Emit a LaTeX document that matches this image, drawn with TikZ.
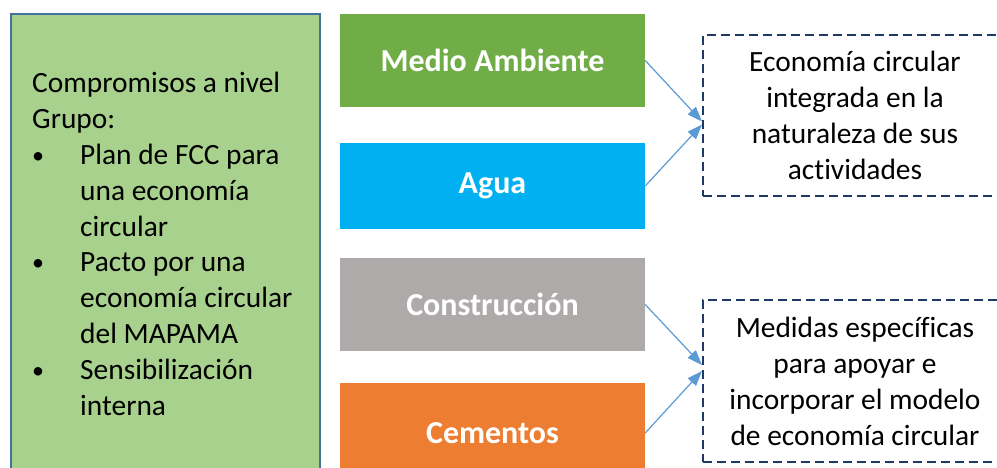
\documentclass[tikz,border=0pt]{standalone}
\usepackage{fontspec}
\setmainfont{Carlito}[Ligatures=NoCommon]
\usetikzlibrary{arrows.meta}

\definecolor{verdeclaro}{HTML}{A9D18E}
\definecolor{azulborde}{HTML}{41719C}
\definecolor{verdema}{HTML}{70AD47}
\definecolor{azulagua}{HTML}{00B0F0}
\definecolor{grisobra}{HTML}{AEAAAA}
\definecolor{naranja}{HTML}{ED7D31}
\definecolor{azuloscuro}{HTML}{203864}
\definecolor{azulflecha}{HTML}{5B9BD5}

\newcommand{\vineta}{\makebox[48pt][l]{\raisebox{1pt}{\fontsize{24}{24}\selectfont\textbullet}}}
\newcommand{\sangria}{\hspace*{48pt}}

\begin{document}
\begin{tikzpicture}[x=1pt,y=-1pt,
    sector/.style={minimum width=305pt,inner sep=0pt,text=white,
      font=\fontsize{32}{36}\selectfont\bfseries},
    meta/.style={draw=azuloscuro,line width=2pt,dash pattern=on 9pt off 5pt,
      minimum width=304pt,inner sep=0pt,align=center,
      font=\fontsize{29.4}{36}\selectfont},
    flecha/.style={draw=azulflecha,line width=1.2pt,
      -{Triangle[length=15pt,width=11pt]}}]
  \clip (0,0) rectangle (997,467);
  \fill[white] (0,0) rectangle (997,467);
  \draw[fill=verdeclaro,draw=azulborde,line width=2pt] (11,14) rectangle (320,490);
  \node[anchor=base west,align=left,inner sep=0pt,
    font=\fontsize{29.4}{35.8}\selectfont] (grupo) at (32,415)
    {Compromisos a nivel\\Grupo:\\
     \vineta Plan de FCC para\\\sangria una economía\\\sangria circular\\
     \vineta Pacto por una\\\sangria economía circular\\\sangria del MAPAMA\\
     \vineta Sensibilización\\\sangria interna};
  % sectores
  \node[sector,fill=verdema,minimum height=93pt] (medio) at (492.5,60.5) {Medio Ambiente};
  \node[sector,fill=azulagua,minimum height=86pt] (agua) at (492.5,186) {Agua};
  \node[sector,fill=grisobra,minimum height=93pt] (obra) at (492.5,304.5) {Construcción};
  \node[sector,fill=naranja,minimum height=100pt] (cementos) at (492.5,433) {Cementos};
  % objetivos
  \node[meta,minimum height=161pt] (economia) at (855,115.5)
    {Economía circular\\integrada en la\\naturaleza de sus\\actividades};
  \node[meta,minimum height=162pt] (medidas) at (855,381)
    {Medidas específicas\\para apoyar e\\incorporar el modelo\\de economía circular};
  \draw[flecha] (medio.east) -- ([yshift=-6pt]economia.west);
  \draw[flecha] (agua.east) -- ([yshift=-9pt]economia.west);
  \draw[flecha] (obra.east) -- ([yshift=16pt]medidas.west);
  \draw[flecha] (cementos.east) -- ([yshift=10pt]medidas.west);
\end{tikzpicture}
\end{document}
